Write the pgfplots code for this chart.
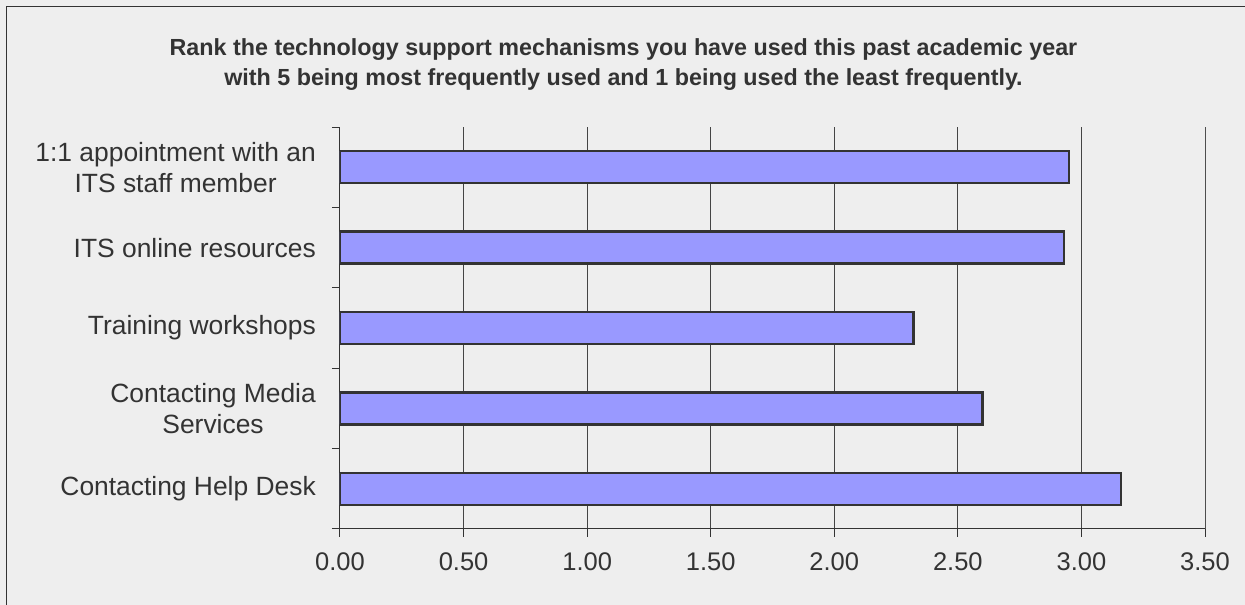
\documentclass[border=0pt]{standalone}
\usepackage{fontspec}
\setmainfont{Liberation Sans}
\usepackage{pgfplots}
\pgfplotsset{compat=1.18}
\definecolor{bg}{HTML}{EEEEEE}
\definecolor{txt}{HTML}{333333}
\definecolor{barfill}{HTML}{9999FF}
\definecolor{gridc}{HTML}{444444}
\begin{document}
\begin{tikzpicture}[x=1pt,y=1pt]
\fill[bg] (0,0) rectangle (1245,605);
\useasboundingbox (0,0) rectangle (1245,605);
\draw[txt, line width=1.3pt] (6.5,0) -- (6.5,598.5) -- (1245,598.5);
\node[anchor=base, text=txt, inner sep=0pt, font=\fontsize{23.3}{28}\selectfont\bfseries] at (623.5,549) {Rank the technology support mechanisms you have used this past academic year};
\node[anchor=base, text=txt, inner sep=0pt, font=\fontsize{23.3}{28}\selectfont\bfseries] at (623.5,519) {with 5 being most frequently used and 1 being used the least frequently.};
\begin{axis}[
  at={(340pt,76pt)}, anchor=south west,
  scale only axis, width=865pt, height=402pt,
  xmin=0, xmax=3.5, ymin=-0.5, ymax=4.5,
  xbar, bar width=32pt,
  axis x line*=bottom, axis y line*=left,
  axis line style={-, draw=txt, line width=1pt},
  xtick={0,0.5,1,1.5,2,2.5,3,3.5},
  xticklabel={\pgfmathprintnumber[fixed,fixed zerofill,precision=2]{\tick}},
  /pgf/number format/assume math mode=true,
  xmajorgrids, grid style={draw=gridc, line width=1pt},
  tick align=outside, major tick length=8pt,
  tick style={draw=txt, line width=1pt},
  ytick={-0.5,0.5,1.5,2.5,3.5,4.5}, yticklabels={},
  extra y ticks={0,1,2,3,4},
  extra y tick labels={Contacting Help Desk,{Contacting Media\\Services},Training workshops,ITS online resources,{1:1 appointment with an\\ITS staff member}},
  extra y tick style={major tick length=0pt, yticklabel style={align=center, anchor=east, inner sep=0pt, xshift=-24pt, font=\fontsize{26.4}{31}\selectfont}},
  ticklabel style={font=\fontsize{25.5}{31}\selectfont, text=txt},
  xticklabel style={anchor=north, inner sep=0pt, yshift=-15pt},
]
\addplot[fill=barfill, draw=txt, line width=2.5pt] coordinates {(3.16,0) (2.60,1) (2.32,2) (2.93,3) (2.95,4)};
\draw[gray!80, line width=1pt] (axis cs:3.5,-0.5) -- (axis cs:3.5,4.5);
\end{axis}
\end{tikzpicture}
\end{document}
